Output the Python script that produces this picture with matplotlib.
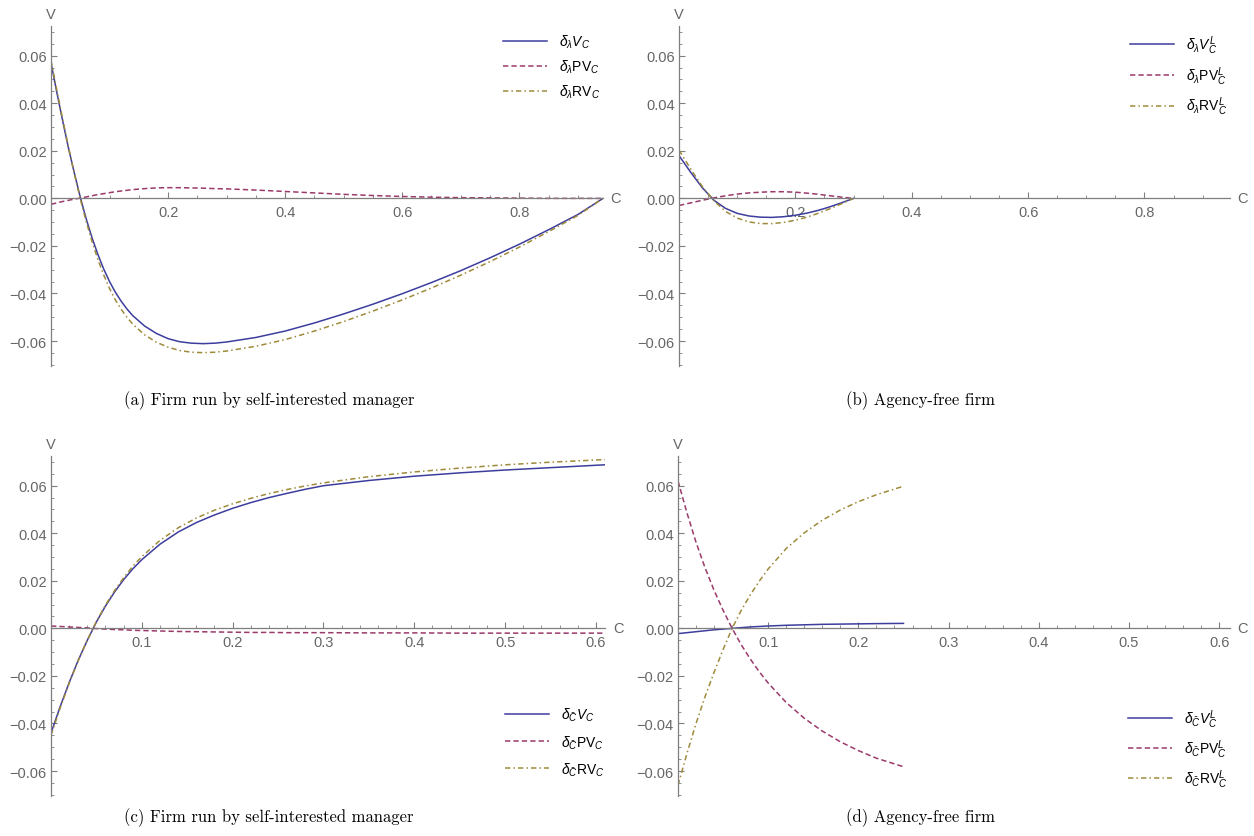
import numpy as np
import matplotlib.pyplot as plt
from matplotlib.ticker import MultipleLocator, FuncFormatter

plt.rcParams['mathtext.fontset'] = 'custom'
plt.rcParams['mathtext.rm'] = 'Liberation Sans'
plt.rcParams['mathtext.it'] = 'Liberation Sans:italic'
plt.rcParams['font.family'] = 'Liberation Sans'

BLUE = '#3d3d9e'
MAGENTA = '#9b3a6b'
OLIVE = '#9e8a3a'
GRAY = '#7f7f7f'
TXT = '#666666'

# ---- panel (a): firm run by self-interested manager, d/d lambda
a_x = [0, 0.01, 0.02, 0.03, 0.04, 0.05, 0.06, 0.07, 0.08, 0.09, 0.10, 0.11, 0.12, 0.13, 0.14,
       0.16, 0.18, 0.20, 0.22, 0.24, 0.26, 0.28, 0.30, 0.35, 0.40, 0.45, 0.50, 0.55, 0.60,
       0.65, 0.70, 0.75, 0.80, 0.85, 0.90, 0.943]
a_v = [0.057, 0.0445, 0.0325, 0.021, 0.0105, 0.0005, -0.0085, -0.0165, -0.0235, -0.0297,
       -0.0350, -0.0395, -0.0433, -0.0466, -0.0494, -0.0537, -0.0568, -0.0590, -0.0603,
       -0.0609, -0.0611, -0.0609, -0.0604, -0.0585, -0.0558, -0.0524, -0.0486, -0.0445,
       -0.0401, -0.0354, -0.0304, -0.0250, -0.0193, -0.0132, -0.0068, 0.0]
a_rv = [0.058, 0.0455, 0.0332, 0.0213, 0.0103, -0.0002, -0.0096, -0.0181, -0.0256, -0.0322,
        -0.0379, -0.0427, -0.0467, -0.0501, -0.0530, -0.0574, -0.0605, -0.0626, -0.0640,
        -0.0647, -0.0649, -0.0647, -0.0642, -0.0622, -0.0594, -0.0558, -0.0518, -0.0474,
        -0.0427, -0.0377, -0.0323, -0.0266, -0.0205, -0.0140, -0.0072, 0.0]
a_pv = [-0.0025, -0.0019, -0.0013, -0.0008, -0.0003, 0.0001, 0.0006, 0.0011, 0.0016, 0.0020,
        0.0024, 0.0028, 0.0031, 0.0034, 0.0037, 0.0041, 0.0044, 0.0045, 0.0045, 0.0044,
        0.0043, 0.0041, 0.0040, 0.0035, 0.0029, 0.0023, 0.0017, 0.0012, 0.0008, 0.0005,
        0.0003, 0.0002, 0.0001, 0.0, 0.0, 0.0]

# ---- panel (b): agency-free firm, d/d lambda
b_x = [0, 0.02, 0.04, 0.06, 0.08, 0.10, 0.12, 0.14, 0.16, 0.18, 0.20, 0.22, 0.24, 0.26, 0.28, 0.30]
b_v = [0.018, 0.0110, 0.0045, -0.0008, -0.0042, -0.0063, -0.0074, -0.0079, -0.0080, -0.0077,
       -0.0071, -0.0062, -0.0050, -0.0035, -0.0018, 0.0]
b_rv = [0.0203, 0.0124, 0.0050, -0.0010, -0.0055, -0.0083, -0.0099, -0.0106, -0.0106, -0.0101,
        -0.0092, -0.0079, -0.0062, -0.0043, -0.0022, 0.0]
b_pv = [-0.003, -0.0019, -0.0008, 0.0002, 0.0011, 0.0018, 0.0023, 0.0026, 0.0028, 0.0028,
        0.0026, 0.0022, 0.0017, 0.0011, 0.0005, 0.0]

# ---- panel (c): firm run by self-interested manager, d/d C-bar
c_x = [0, 0.01, 0.02, 0.03, 0.04, 0.05, 0.06, 0.07, 0.08, 0.09, 0.10, 0.12, 0.14, 0.16, 0.18,
       0.20, 0.22, 0.24, 0.26, 0.28, 0.30, 0.35, 0.40, 0.45, 0.50, 0.55, 0.61]
c_v = [-0.044, -0.0330, -0.0228, -0.0134, -0.0050, 0.0027, 0.0094, 0.0153, 0.0205, 0.0250,
       0.0289, 0.0354, 0.0405, 0.0445, 0.0477, 0.0505, 0.0529, 0.0550, 0.0568, 0.0585, 0.0600,
       0.0622, 0.0640, 0.0654, 0.0666, 0.0676, 0.0688]
c_rv = [-0.045, -0.0336, -0.0231, -0.0135, -0.0049, 0.0029, 0.0098, 0.0159, 0.0213, 0.0261,
        0.0302, 0.0370, 0.0423, 0.0464, 0.0497, 0.0524, 0.0547, 0.0567, 0.0584, 0.0599, 0.0612,
        0.0638, 0.0658, 0.0674, 0.0688, 0.0699, 0.0710]
c_pv = [0.001, 0.0008, 0.0006, 0.0004, 0.0002, -0.0001, -0.0003, -0.0005, -0.0006, -0.0008,
        -0.0009, -0.0011, -0.0013, -0.0014, -0.0015, -0.0016, -0.0017, -0.0017, -0.0018,
        -0.0018, -0.0018, -0.0019, -0.0019, -0.0020, -0.0020, -0.0020, -0.0020]

# ---- panel (d): agency-free firm, d/d C-bar
d_x = [0, 0.01, 0.02, 0.03, 0.04, 0.05, 0.06, 0.07, 0.08, 0.09, 0.10, 0.12, 0.14, 0.16, 0.18,
       0.20, 0.22, 0.25]
d_v = [-0.0022, -0.0018, -0.0014, -0.0010, -0.0006, -0.0003, 0.0, 0.0003, 0.0006, 0.0008,
       0.0010, 0.0013, 0.0015, 0.0017, 0.0018, 0.0019, 0.0020, 0.0021]
d_rv = [-0.066, -0.0525, -0.0400, -0.0287, -0.0185, -0.0089, 0.0, 0.0075, 0.0140, 0.0198,
        0.0250, 0.0336, 0.0402, 0.0455, 0.0498, 0.0533, 0.0562, 0.0598]
d_pv = [0.062, 0.0485, 0.0362, 0.0255, 0.0160, 0.0076, 0.0, -0.0068, -0.0128, -0.0182,
        -0.0230, -0.0312, -0.0378, -0.0432, -0.0477, -0.0514, -0.0546, -0.0582]

lab_l = [r'$\delta_\lambda V_C$', r'$\delta_\lambda \mathrm{PV}_C$', r'$\delta_\lambda \mathrm{RV}_C$']
lab_lL = [r'$\delta_\lambda V_C^L$', r'$\delta_\lambda \mathrm{PV}_C^L$', r'$\delta_\lambda \mathrm{RV}_C^L$']
lab_c = [r'$\delta_{\bar{C}} V_C$', r'$\delta_{\bar{C}} \mathrm{PV}_C$', r'$\delta_{\bar{C}} \mathrm{RV}_C$']
lab_cL = [r'$\delta_{\bar{C}} V_C^L$', r'$\delta_{\bar{C}} \mathrm{PV}_C^L$', r'$\delta_{\bar{C}} \mathrm{RV}_C^L$']

captions = ['(a) Firm run by self-interested manager', '(b) Agency-free firm',
            '(c) Firm run by self-interested manager', '(d) Agency-free firm']

W, H = 1254, 837
fig = plt.figure(figsize=(W / 100, H / 100), dpi=100)


def px_axes(left, top, right, bottom):
    return fig.add_axes([left / W, 1 - bottom / H, (right - left) / W, (bottom - top) / H])


def fmt_y(v, pos):
    s = '{:.2f}'.format(v)
    if s == '-0.00':
        s = '0.00'
    return s.replace('-', '\u2212')


def style(ax, xmax, xmaj, xmin):
    ax.set_xlim(0, xmax)
    ax.set_ylim(-0.0705, 0.0725)
    for s in ['top', 'right']:
        ax.spines[s].set_visible(False)
    ax.spines['left'].set_position(('data', 0))
    ax.spines['bottom'].set_position(('data', 0))
    for s in ['left', 'bottom']:
        ax.spines[s].set_color(GRAY)
        ax.spines[s].set_linewidth(0.9)
    ax.set_xticks([t * xmaj for t in range(1, int(xmax / xmaj + 1e-9) + 1)])
    ax.xaxis.set_minor_locator(MultipleLocator(xmin))
    ax.yaxis.set_major_locator(MultipleLocator(0.02))
    ax.yaxis.set_minor_locator(MultipleLocator(0.005))
    ax.yaxis.set_major_formatter(FuncFormatter(fmt_y))
    ax.xaxis.set_major_formatter(FuncFormatter(lambda v, p: '{:g}'.format(round(v, 2))))
    ax.tick_params(which='major', direction='in', length=4.5, width=0.8, color=GRAY,
                   labelcolor=TXT, labelsize=10.5)
    ax.tick_params(which='minor', direction='in', length=2.5, width=0.6, color=GRAY)
    ax.tick_params(axis='x', pad=5)
    ax.tick_params(axis='y', pad=3)
    ax.patch.set_alpha(0)
    ax.text(0, 1.015, 'V', transform=ax.transAxes, ha='center', va='bottom', color=TXT,
            fontsize=10.5)
    ax.text(xmax * 1.014, 0, 'C', ha='left', va='center', color=TXT, fontsize=10.5)


def curves(ax, x, v, pv, rv, labels, loc_px, spacing):
    ax.plot(x, v, color=BLUE, lw=1.1, label=labels[0])
    ax.plot(x, pv, color=MAGENTA, lw=1.1, ls=(0, (3.5, 2.0)), label=labels[1])
    ax.plot(x, rv, color=OLIVE, lw=1.1, ls=(0, (3.5, 2.0, 1.0, 2.0)), label=labels[2])
    leg = ax.legend(loc='upper left', bbox_to_anchor=(loc_px[0] / W, 1 - loc_px[1] / H),
                    bbox_transform=fig.transFigure, frameon=False, fontsize=10,
                    handlelength=3.2, handletextpad=0.8, labelspacing=spacing, borderpad=0,
                    borderaxespad=0)
    return leg


ax_a = px_axes(51, 27, 603, 367)
style(ax_a, 0.943, 0.2, 0.05)
curves(ax_a, a_x, a_v, a_pv, a_rv, lab_l, (503, 34), 0.55)

ax_b = px_axes(679, 27, 1230, 367)
style(ax_b, 0.947, 0.2, 0.05)
curves(ax_b, b_x, b_v, b_pv, b_rv, lab_lL, (1130, 34), 0.6)

ax_c = px_axes(51, 457, 605, 797)
style(ax_c, 0.61, 0.1, 0.02)
curves(ax_c, c_x, c_v, c_pv, c_rv, lab_c, (505, 707), 0.7)

ax_d = px_axes(678, 457, 1230, 797)
style(ax_d, 0.612, 0.1, 0.02)
curves(ax_d, d_x, d_v, d_pv, d_rv, lab_cL, (1128, 708), 0.55)

cap_pos = [(269, 401), (920, 401), (269, 818), (920, 818)]
for (cx, cy), cap in zip(cap_pos, captions):
    fig.text(cx / W, 1 - cy / H, cap, ha='center', va='center', fontsize=12,
             family='cmr10')

fig.savefig('out.png', dpi=100)
